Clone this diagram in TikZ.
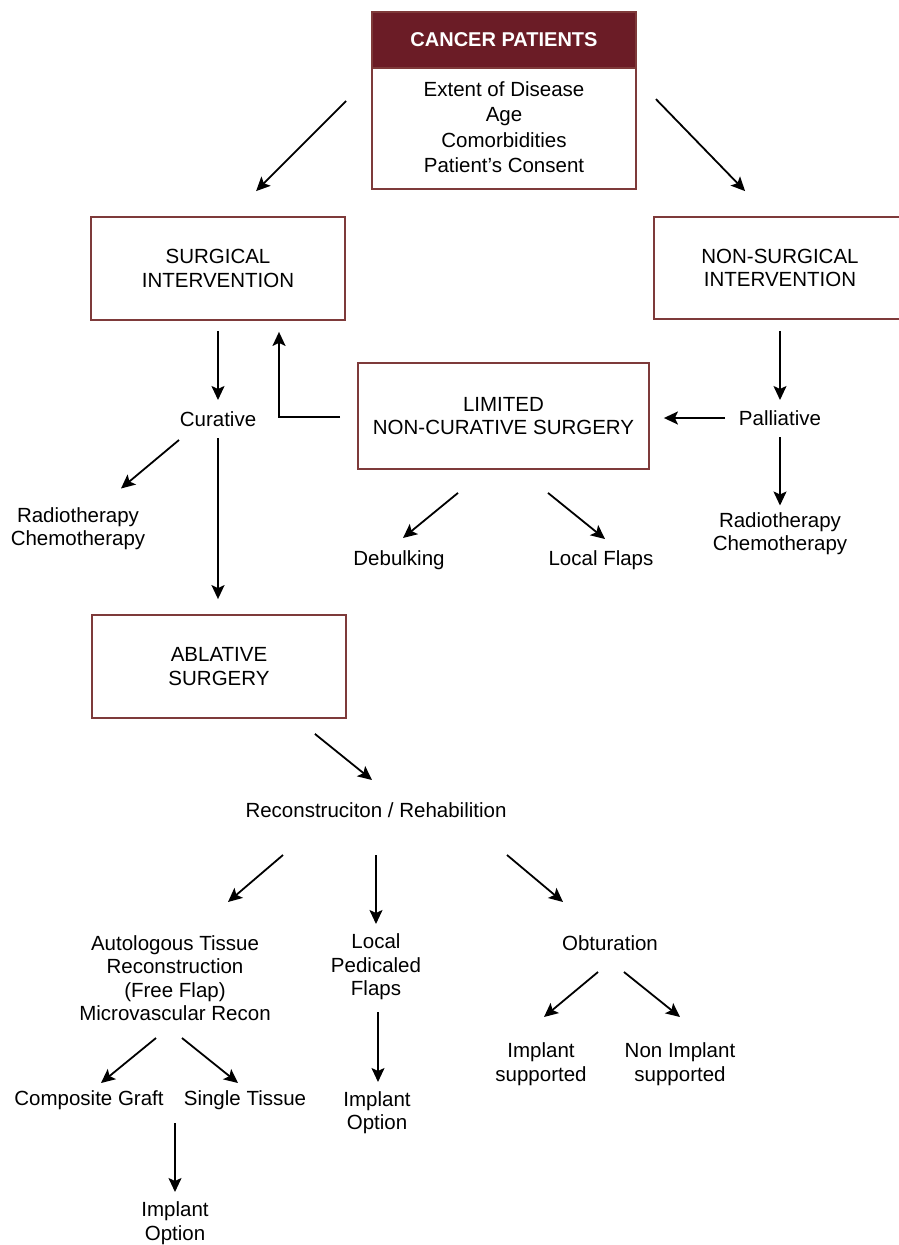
\documentclass[tikz,border=0pt]{standalone}
\usepackage{fontspec}
\setmainfont{Liberation Sans}
\usetikzlibrary{calc,arrows.meta}
\definecolor{hdrred}{HTML}{6B1C26}
\definecolor{boxred}{HTML}{7E3A3A}
\begin{document}
\begin{tikzpicture}[x=1pt,y=-1pt,
  every node/.style={font=\fontsize{20.5}{23.5}\selectfont, inner sep=0pt, align=center},
  box/.style={draw=boxred, line width=1.8pt, minimum width=254pt, minimum height=103pt},
  arr/.style={line width=1.8pt, -{Stealth[length=14pt,width=13pt,inset=3pt]}}]
\useasboundingbox[fill=white] (0,0) rectangle (898,1245);

% top box
\node[draw=boxred, line width=1.8pt, minimum width=264pt, minimum height=177pt] (cancer) at (504,100.5) {};
\node[fill=hdrred, draw=boxred, line width=1.8pt, minimum width=264pt, minimum height=56pt, anchor=north, text=white, font=\fontsize{20}{23.5}\selectfont\bfseries] (hdr) at (cancer.north) {CANCER PATIENTS};
\node[font=\fontsize{20.5}{25.5}\selectfont] (cancertxt) at (504,127) {Extent of Disease\\Age\\Comorbidities\\Patient's Consent};

% boxes
\node[box] (surg) at (218,268.5) {SURGICAL\\INTERVENTION};
\node[box, minimum width=252pt, minimum height=102pt] (nonsurg) at (780,268) {NON-SURGICAL\\INTERVENTION};
\node[box, minimum width=291pt, minimum height=106pt] (limited) at (503.5,416) {LIMITED\\NON-CURATIVE SURGERY};
\node[box] (ablative) at (219,666.5) {ABLATIVE\\SURGERY};

% text nodes
\node (curative) at (218,419) {Curative};
\node (palliative) at (780,418) {Palliative};
\node (rc1) at (78,528.5) {Radiotherapy\\Chemotherapy};
\node (rc2) at (780,533.5) {Radiotherapy\\Chemotherapy};
\node (debulking) at (399,560) {Debulking};
\node (localflaps) at (601,560) {Local Flaps};
\node (recon) at (376,810) {Reconstruciton / Rehabilition};
\node (auto) at (175,978) {Autologous Tissue\\Reconstruction\\(Free Flap)\\Microvascular Recon};
\node (localped) at (376,967) {Local\\Pedicaled\\Flaps};
\node (obtur) at (610,943) {Obturation};
\node (impsup) at (541,1064) {Implant\\supported};
\node (nonimp) at (680,1064) {Non Implant\\supported};
\node (composite) at (89,1100) {Composite Graft};
\node (single) at (245,1100) {Single Tissue};
\node (implant1) at (377,1112.5) {Implant\\Option};
\node (implant2) at (175,1223) {Implant\\Option};

% connectors
\draw[arr] ($(cancer.north west)+(-25,90)$) -- ($(surg.north west)+(166,-25)$);
\draw[arr] ($(cancer.north east)+(19,88)$) -- ($(nonsurg.north west)+(92,-25)$);
\draw[arr] ($(surg.south)+(0,10)$) -- ($(curative.center)+(0,-19)$);
\draw[arr] ($(limited.west)+(-17,1)$) -| ($(surg.south)+(61,11)$);
\draw[arr] ($(palliative.center)+(-55,0)$) -- ($(limited.east)+(14,2)$);
\draw[arr] ($(nonsurg.south)+(0,11)$) -- ($(palliative.center)+(0,-18)$);
\draw[arr] ($(palliative.center)+(0,19)$) -- ($(rc2.center)+(0,-28)$);
\draw[arr] ($(curative.center)+(-39,21)$) -- ($(rc1.center)+(43,-40)$);
\draw[arr] ($(curative.center)+(0,19)$) -- ($(ablative.north)+(-1,-15)$);
\draw[arr] ($(limited.south)+(-45.5,23)$) -- ($(debulking.center)+(4,-22)$);
\draw[arr] ($(limited.south)+(44.5,23)$) -- ($(localflaps.center)+(4,-21)$);
\draw[arr] ($(ablative.south east)+(-32,15)$) -- ($(recon.center)+(-4,-30)$);
\draw[arr] ($(recon.center)+(-93,45)$) -- ($(auto.center)+(53,-76)$);
\draw[arr] ($(recon.center)+(0,45)$) -- ($(localped.center)+(0,-43)$);
\draw[arr] ($(recon.center)+(131,45)$) -- ($(obtur.center)+(-47,-41)$);
\draw[arr] ($(auto.center)+(-19,60)$) -- ($(composite.center)+(12,-17)$);
\draw[arr] ($(auto.center)+(7,60)$) -- ($(single.center)+(-7,-17)$);
\draw[arr] ($(localped.center)+(2,45)$) -- ($(implant1.center)+(1,-30.5)$);
\draw[arr] ($(obtur.center)+(-12,29)$) -- ($(impsup.center)+(3,-47)$);
\draw[arr] ($(obtur.center)+(14,29)$) -- ($(nonimp.center)+(0,-47)$);
\draw[arr] ($(composite.center)+(86,23)$) -- ($(implant2.center)+(0,-31)$);
\end{tikzpicture}
\end{document}
